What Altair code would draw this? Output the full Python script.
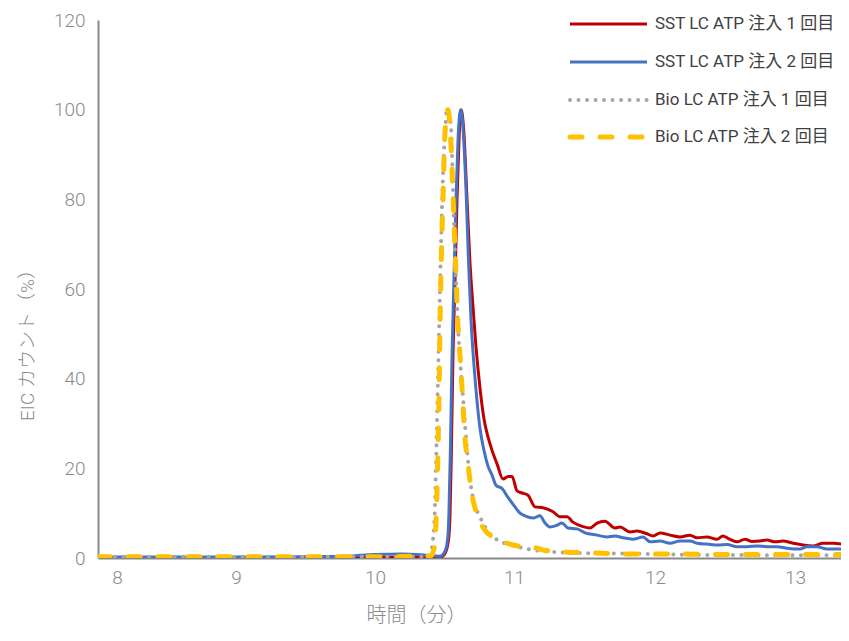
import altair as alt
import pandas as pd

series_names = [
    "SST LC ATP 注入 1 回目",
    "SST LC ATP 注入 2 回目",
    "Bio LC ATP 注入 1 回目",
    "Bio LC ATP 注入 2 回目",
]

# (time in minutes, EIC count %)
sst1 = [(7.84, 0.1), (8.5, 0.1), (9.0, 0.1), (9.5, 0.1), (10.0, 0.1), (10.3, 0.1), (10.45, 0.1),
        (10.482, 0.3), (10.511, 1.5), (10.532, 5), (10.54, 10), (10.55, 25), (10.561, 45), (10.576, 62),
        (10.59, 80), (10.604, 93), (10.619, 100), (10.637, 96), (10.662, 80), (10.683, 66), (10.705, 56),
        (10.727, 47), (10.755, 38), (10.784, 31), (10.813, 27), (10.842, 24), (10.878, 21), (10.921, 17.6),
        (10.957, 18.2), (10.986, 18.2), (11.021, 15), (11.057, 14.5), (11.099, 14), (11.149, 11.4),
        (11.206, 11.2), (11.277, 10.3), (11.326, 9.2), (11.376, 9.2), (11.418, 8), (11.489, 7), (11.539, 6.7),
        (11.589, 7.8), (11.645, 8.2), (11.716, 6.7), (11.752, 6.9), (11.823, 5.8), (11.872, 6.0), (11.943, 5.4),
        (11.986, 4.9), (12.036, 5.6), (12.107, 5.1), (12.179, 4.7), (12.25, 5.1), (12.3, 4.5), (12.371, 4.7),
        (12.443, 4.2), (12.486, 4.9), (12.521, 4.4), (12.586, 3.6), (12.643, 4.2), (12.693, 3.7), (12.75, 3.8),
        (12.8, 4.0), (12.857, 3.6), (12.914, 3.8), (12.986, 3.3), (13.057, 2.9), (13.129, 2.7), (13.2, 3.3),
        (13.271, 3.3), (13.336, 3.1), (13.386, 2.5)]

sst2 = [(7.84, 0.2), (8.5, 0.2), (9.0, 0.2), (9.5, 0.3), (9.8, 0.4), (10.0, 0.8), (10.2, 0.9), (10.3, 0.8),
        (10.4, 0.5), (10.468, 0.4), (10.504, 1.5), (10.525, 5), (10.532, 10), (10.543, 25), (10.554, 45),
        (10.568, 62), (10.583, 80), (10.597, 93), (10.615, 100), (10.633, 96), (10.655, 82), (10.673, 66),
        (10.691, 53), (10.712, 43), (10.734, 35), (10.755, 29), (10.784, 24), (10.813, 20.5), (10.842, 18.5),
        (10.871, 16.2), (10.914, 15.5), (10.957, 13.5), (11.007, 11.4), (11.043, 10), (11.078, 9.4),
        (11.135, 8.9), (11.184, 9.4), (11.22, 7.8), (11.255, 6.9), (11.305, 7.3), (11.34, 7.8), (11.383, 6.7),
        (11.447, 6.5), (11.504, 5.6), (11.589, 5.1), (11.66, 4.7), (11.716, 4.9), (11.773, 4.5), (11.844, 4.2),
        (11.915, 4.7), (11.965, 3.6), (12.036, 3.8), (12.107, 3.3), (12.179, 3.8), (12.25, 3.8), (12.3, 3.3),
        (12.371, 3.1), (12.45, 2.9), (12.514, 3.0), (12.586, 2.5), (12.657, 2.5), (12.729, 2.7), (12.8, 2.5),
        (12.871, 2.5), (12.943, 2.2), (13.036, 2.0), (13.086, 2.5), (13.157, 2.5), (13.229, 2.0), (13.3, 2.0),
        (13.386, 2.0)]

bio1 = [(7.84, 0.3), (8.5, 0.3), (9.0, 0.3), (9.5, 0.3), (10.0, 0.3), (10.3, 0.3), (10.381, 0.3),
        (10.403, 1.5), (10.417, 4), (10.432, 12), (10.442, 25), (10.453, 40), (10.464, 55), (10.475, 70),
        (10.489, 85), (10.504, 95), (10.518, 100), (10.534, 99), (10.547, 96), (10.556, 88), (10.568, 75),
        (10.583, 62), (10.6, 50), (10.615, 43), (10.633, 36), (10.647, 30), (10.676, 19.5), (10.705, 13.4),
        (10.755, 9.2), (10.849, 4.7), (11.028, 2.5), (11.305, 1.3), (11.489, 1.1), (11.752, 1.0),
        (11.943, 0.9), (12.321, 0.7), (13.386, 0.6)]

bio2 = [(7.84, 0.3), (8.5, 0.3), (9.0, 0.3), (9.5, 0.3), (10.0, 0.3), (10.3, 0.4), (10.403, 0.5),
        (10.424, 2), (10.439, 8), (10.45, 20), (10.46, 35), (10.468, 52), (10.478, 68), (10.489, 80),
        (10.504, 95), (10.525, 100), (10.54, 96), (10.561, 81), (10.579, 66), (10.597, 52), (10.612, 45),
        (10.626, 38), (10.647, 27), (10.669, 21), (10.683, 17.4), (10.705, 13), (10.741, 9.2), (10.791, 6.2),
        (10.849, 4.7), (10.921, 3.6), (10.993, 2.9), (11.163, 2.2), (11.206, 1.8), (11.376, 1.3),
        (11.589, 1.1), (11.823, 0.9), (12.057, 0.9), (12.464, 0.8), (13.386, 0.8)]

tick_x = [8, 9, 10, 11, 12, 13]
tick_y = [0, 20, 40, 60, 80, 100, 120]

rows = []
for name, pts in zip(series_names, [sst1, sst2, bio1, bio2]):
    for t, v in pts:
        rows.append({"series": name, "t": t, "v": v})
df = pd.DataFrame(rows)

FONT = "Roboto, 'Noto Sans CJK JP', sans-serif"
AX_GREY = "#898989"
TXT_GREY = "#8a8a8a"

styles = [
    dict(color="#C00000", strokeWidth=3),
    dict(color="#4472C4", strokeWidth=3),
    dict(color="#A5A5A5", strokeWidth=4, strokeDash=[0.01, 8.5], strokeCap="round"),
    dict(color="#FFC000", strokeWidth=5, strokeDash=[12, 18], strokeCap="round"),
]

xscale = alt.Scale(domain=[7.84, 8, 9, 10, 11, 12, 13, 13.329],
                   range=[0, 19, 138, 277, 416, 557, 697, 743], nice=False, zero=False)
yscale = alt.Scale(domain=[0, 120], nice=False, zero=True)

x_axis = alt.Axis(values=tick_x, title="時間（分）", ticks=False, grid=False,
                  domainColor=AX_GREY, domainWidth=2,
                  labelFont=FONT, labelFontSize=19, labelFontWeight=300, labelColor=TXT_GREY,
                  labelPadding=10,
                  titleFont=FONT, titleFontSize=20, titleFontWeight=300, titleColor=TXT_GREY,
                  titleX=318, titleY=57, titleBaseline="middle")
y_axis = alt.Axis(values=tick_y, title="EIC カウント（%）", ticks=False, grid=False,
                  domainColor=AX_GREY, domainWidth=2,
                  labelFont=FONT, labelFontSize=19, labelFontWeight=300, labelColor=TXT_GREY,
                  labelPadding=13,
                  titleFont=FONT, titleFontSize=19, titleFontWeight=300, titleColor=TXT_GREY,
                  titleX=-71, titleY=320, titleBaseline="middle", titleAngle=270)

x_enc = alt.X("t:Q", scale=xscale, axis=x_axis)
y_enc = alt.Y("v:Q", scale=yscale, axis=y_axis)

layers = []
for name, st in zip(series_names, styles):
    layers.append(
        alt.Chart(df).transform_filter(alt.datum.series == name)
        .mark_line(interpolate="monotone", clip=True, **st)
        .encode(x=x_enc, y=y_enc)
    )

legend_y = [4, 42, 80, 117]
for name, st, ly in zip(series_names, styles, legend_y):
    leg = pd.DataFrame({"label": [name]})
    layers.append(
        alt.Chart(leg).mark_rule(**st).encode(x=alt.value(472), x2=alt.value(549), y=alt.value(ly))
    )
    layers.append(
        alt.Chart(leg).mark_text(align="left", baseline="middle", font=FONT, fontSize=17,
                                 color="#404040")
        .encode(x=alt.value(557), y=alt.value(ly), text="label:N")
    )

chart = alt.layer(*layers).properties(
    width=743, height=538,
    padding={"left": 90, "top": 12, "right": 0, "bottom": 70},
    autosize=alt.AutoSizeParams(type="none"),
    background="white",
).configure_view(stroke=None)

chart.save("out.html", embed_options={"renderer": "svg", "actions": False})
